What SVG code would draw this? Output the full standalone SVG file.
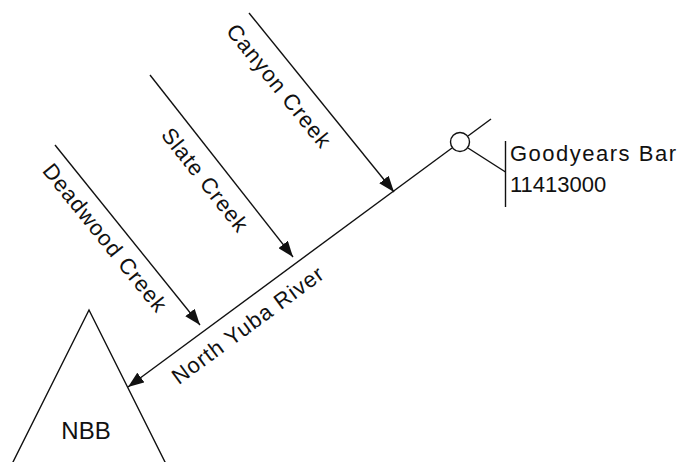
<svg xmlns="http://www.w3.org/2000/svg" width="679" height="462" viewBox="0 0 679 462">
  <style>
    .ln { fill: none; stroke: #111; stroke-width: 1.4; }
    .arr { marker-end: url(#head); }
    .lbl { font-family: "Liberation Sans", Arial, sans-serif; font-size: 22px; fill: #111; letter-spacing: 1px; }
    .mid { text-anchor: middle; dominant-baseline: central; }
  </style>
  <defs>
    <marker id="head" viewBox="0 0 16 12" refX="16" refY="6" markerWidth="16" markerHeight="12" markerUnits="userSpaceOnUse" orient="auto">
      <path d="M0,0 L16,6 L0,12 z" fill="#111"/>
    </marker>
  </defs>
  <rect width="679" height="462" fill="#fff"/>

  <!-- basin outlet -->
  <g id="nbb">
    <polyline class="ln" points="5,478 89,310 173,478"/>
    <text class="lbl" x="86" y="439" text-anchor="middle" style="font-size:24px;letter-spacing:0">NBB</text>
  </g>

  <!-- stream gauge -->
  <g id="gauge">
    <circle class="ln" cx="460" cy="142" r="9.5"/>
    <line class="ln" x1="468" y1="148" x2="505.5" y2="172"/>
    <line class="ln" x1="505.5" y1="141" x2="505.5" y2="207"/>
    <text class="lbl" x="510" y="161" style="letter-spacing:1.5px">Goodyears Bar</text>
    <text class="lbl" x="510" y="192" style="letter-spacing:0">11413000</text>
  </g>

  <g id="connectors">
    <line class="ln" x1="491" y1="119" x2="468" y2="136"/>
    <line class="ln arr" x1="452" y1="148" x2="128" y2="387"/>
    <line class="ln arr" x1="249" y1="13" x2="394" y2="192"/>
    <line class="ln arr" x1="150" y1="75" x2="293" y2="257"/>
    <line class="ln arr" x1="55" y1="145" x2="200" y2="325"/>
  </g>

  <g id="river-label">
    <text class="lbl mid" transform="translate(248,325) rotate(-36.4)">North Yuba River</text>
  </g>
  <g id="canyon-label">
    <text class="lbl mid" transform="translate(279,86) rotate(51)">Canyon Creek</text>
  </g>
  <g id="slate-label">
    <text class="lbl mid" transform="translate(205,180) rotate(51.8)">Slate Creek</text>
  </g>
  <g id="deadwood-label">
    <text class="lbl mid" transform="translate(105,238) rotate(51.1)">Deadwood Creek</text>
  </g>
</svg>
